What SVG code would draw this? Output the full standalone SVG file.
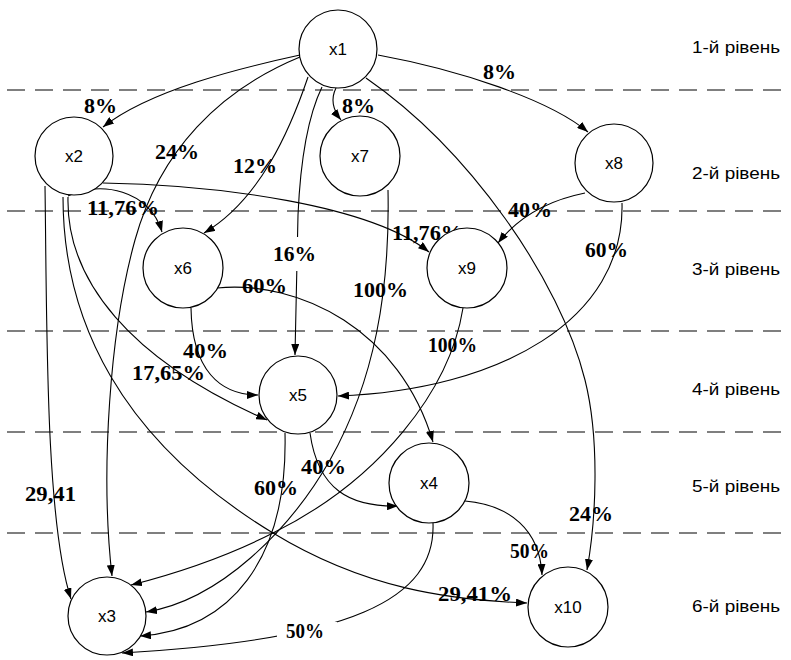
<svg xmlns="http://www.w3.org/2000/svg" width="791" height="660" viewBox="0 0 791 660">
  <style>
    .level-line { stroke: #555; stroke-width: 1.4; stroke-dasharray: 18 10; fill: none; }
    .level { font-family: "Liberation Sans", Arial, sans-serif; font-size: 16px; fill: #000; }
    .node circle { fill: #fff; stroke: #000; stroke-width: 1.2; }
    .node text { font-family: "Liberation Sans", Arial, sans-serif; font-size: 17px; fill: #000; text-anchor: middle; }
    .edge { fill: none; stroke: #000; stroke-width: 1.1; marker-end: url(#arrow); }
    .pct { font-weight: bold; font-size: 21px; fill: #000; }
    .pct-bg { fill: #fff; }
  </style>
  <defs>
    <marker id="arrow" markerUnits="userSpaceOnUse" markerWidth="11" markerHeight="8" refX="11" refY="4" orient="auto">
      <path d="M0,0 L11,4 L0,8 z" fill="#000"/>
    </marker>
  </defs>

  <rect width="791" height="660" fill="#fff"/>

  <!-- level separators -->
  <g id="levels">
    <line class="level-line" x1="7" y1="90" x2="791" y2="90"/>
    <line class="level-line" x1="7" y1="211" x2="791" y2="211"/>
    <line class="level-line" x1="7" y1="331" x2="791" y2="331"/>
    <line class="level-line" x1="7" y1="432" x2="791" y2="432"/>
    <line class="level-line" x1="7" y1="533" x2="791" y2="533"/>
    <text class="level" x="692" y="53" textLength="88" lengthAdjust="spacingAndGlyphs">1-й рівень</text>
    <text class="level" x="692" y="179" textLength="88" lengthAdjust="spacingAndGlyphs">2-й рівень</text>
    <text class="level" x="692" y="275" textLength="88" lengthAdjust="spacingAndGlyphs">3-й рівень</text>
    <text class="level" x="692" y="395" textLength="88" lengthAdjust="spacingAndGlyphs">4-й рівень</text>
    <text class="level" x="692" y="492" textLength="88" lengthAdjust="spacingAndGlyphs">5-й рівень</text>
    <text class="level" x="692" y="612" textLength="88" lengthAdjust="spacingAndGlyphs">6-й рівень</text>
  </g>

  <!-- connectors -->
  <g id="edges">
    <!-- from x1 -->
    <path class="edge" d="M300,55 C240,68 150,90 103,127"/>
    <path class="edge" d="M300,57 C220,90 160,150 135,240 C110,330 100,470 112,576"/>
    <path class="edge" d="M308,77 C290,130 260,200 204,233"/>
    <path class="edge" d="M322,87 C306,120 300,170 298,215 L295,355"/>
    <path class="edge" d="M336,88 C330,100 333,110 341,120"/>
    <path class="edge" d="M378,55 C460,70 550,100 588,132"/>
    <path class="edge" d="M366,78 C470,150 560,280 585,380 C600,440 596,520 587,570"/>
    <!-- from x2 -->
    <path class="edge" d="M45,186 C47,320 45,520 71,599"/>
    <path class="edge" d="M68,196 C100,180 150,190 162,232"/>
    <path class="edge" d="M103,183 C220,185 370,205 429,252"/>
    <path class="edge" d="M68,197 C66,280 130,360 267,420"/>
    <path class="edge" d="M63,197 C63,320 120,440 273,533 C365,589 450,600 527,603"/>
    <!-- from x6 -->
    <path class="edge" d="M191,308 C192,370 220,395 258,395"/>
    <path class="edge" d="M217,288 C300,280 400,330 433,442"/>
    <!-- from x7 -->
    <path class="edge" d="M388,190 C390,290 375,380 330,460 C290,530 220,600 146,612"/>
    <!-- from x9 -->
    <path class="edge" d="M463,308 C450,390 380,480 273,533 C220,560 170,575 131,585"/>
    <!-- from x8 -->
    <path class="edge" d="M585,193 C550,200 520,215 498,243"/>
    <path class="edge" d="M622,203 C625,320 500,390 338,396"/>
    <!-- from x5 -->
    <path class="edge" d="M285,433 C288,560 230,630 140,636"/>
    <path class="edge" d="M310,433 C318,490 350,507 398,506"/>
    <!-- from x4 -->
    <path class="edge" d="M433,523 C436,600 350,640 122,653"/>
    <path class="edge" d="M465,501 C510,505 540,530 542,575"/>
  </g>

  <!-- edge weights -->
  <g id="weights" font-family="'Liberation Serif', 'Times New Roman', Times, serif">
    <rect class="pct-bg" x="270" y="237" width="50" height="34"/>
    <rect class="pct-bg" x="277" y="622" width="60" height="26"/>
    <text class="pct" x="84" y="113" textLength="33" lengthAdjust="spacingAndGlyphs">8%</text>
    <text class="pct" x="155" y="159" textLength="44" lengthAdjust="spacingAndGlyphs">24%</text>
    <text class="pct" x="233" y="173" textLength="44" lengthAdjust="spacingAndGlyphs">12%</text>
    <text class="pct" x="342" y="113" textLength="33" lengthAdjust="spacingAndGlyphs">8%</text>
    <text class="pct" x="483" y="79" textLength="33" lengthAdjust="spacingAndGlyphs">8%</text>
    <text class="pct" x="273" y="261" textLength="43" lengthAdjust="spacingAndGlyphs">16%</text>
    <text class="pct" x="569" y="521" textLength="44" lengthAdjust="spacingAndGlyphs">24%</text>
    <text class="pct" x="25" y="501" textLength="51" lengthAdjust="spacingAndGlyphs">29,41</text>
    <text class="pct" x="87" y="215" textLength="72" lengthAdjust="spacingAndGlyphs">11,76%</text>
    <text class="pct" x="392" y="240" textLength="71" lengthAdjust="spacingAndGlyphs">11,76%</text>
    <text class="pct" x="132" y="380" textLength="73" lengthAdjust="spacingAndGlyphs">17,65%</text>
    <text class="pct" x="438" y="601" textLength="74" lengthAdjust="spacingAndGlyphs">29,41%</text>
    <text class="pct" x="183" y="358" textLength="45" lengthAdjust="spacingAndGlyphs">40%</text>
    <text class="pct" x="242" y="293" textLength="45" lengthAdjust="spacingAndGlyphs">60%</text>
    <text class="pct" x="353" y="297" textLength="55" lengthAdjust="spacingAndGlyphs">100%</text>
    <text class="pct" x="428" y="352" textLength="49" lengthAdjust="spacingAndGlyphs">100%</text>
    <text class="pct" x="508" y="217" textLength="44" lengthAdjust="spacingAndGlyphs">40%</text>
    <text class="pct" x="585" y="257" textLength="43" lengthAdjust="spacingAndGlyphs">60%</text>
    <text class="pct" x="254" y="495" textLength="44" lengthAdjust="spacingAndGlyphs">60%</text>
    <text class="pct" x="301" y="474" textLength="45" lengthAdjust="spacingAndGlyphs">40%</text>
    <text class="pct" x="510" y="558" textLength="39" lengthAdjust="spacingAndGlyphs">50%</text>
    <text class="pct" x="286" y="638" textLength="38" lengthAdjust="spacingAndGlyphs">50%</text>
  </g>

  <!-- nodes -->
  <g id="x1" class="node"><circle cx="338" cy="49" r="39"/><text x="338" y="55">x1</text></g>
  <g id="x2" class="node"><circle cx="74" cy="156" r="39"/><text x="74" y="162">x2</text></g>
  <g id="x7" class="node"><circle cx="360" cy="156" r="40"/><text x="360" y="162">x7</text></g>
  <g id="x8" class="node"><circle cx="614" cy="163" r="39"/><text x="614" y="169">x8</text></g>
  <g id="x6" class="node"><circle cx="183" cy="268" r="40"/><text x="183" y="274">x6</text></g>
  <g id="x9" class="node"><circle cx="467" cy="268" r="40"/><text x="467" y="274">x9</text></g>
  <g id="x5" class="node"><circle cx="298" cy="395" r="39"/><text x="298" y="401">x5</text></g>
  <g id="x4" class="node"><circle cx="429" cy="483" r="40"/><text x="429" y="489">x4</text></g>
  <g id="x3" class="node"><circle cx="107" cy="616" r="39"/><text x="107" y="622">x3</text></g>
  <g id="x10" class="node"><circle cx="568" cy="607" r="40"/><text x="568" y="613">x10</text></g>
</svg>
